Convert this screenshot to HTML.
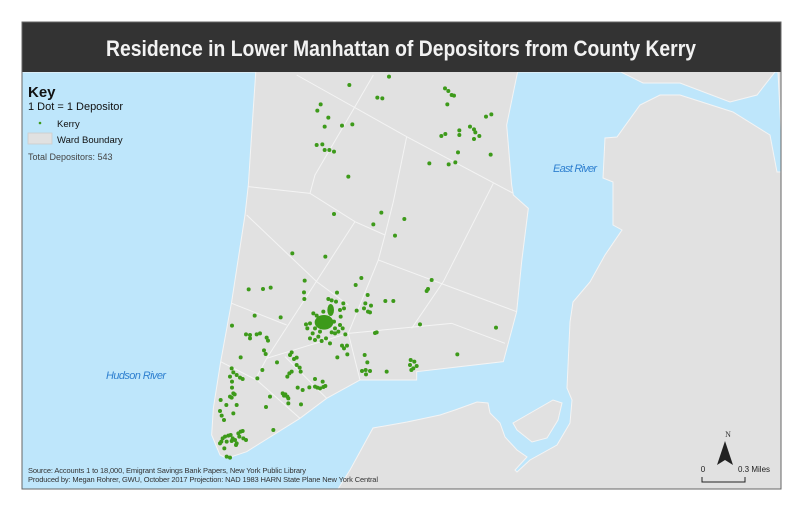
<!DOCTYPE html>
<html><head><meta charset="utf-8"><style>
html,body{margin:0;padding:0;background:#fff;}
svg{display:block;}
</style></head><body>
<svg width="800" height="511" viewBox="0 0 800 511" xmlns="http://www.w3.org/2000/svg">
<defs><clipPath id="c"><rect x="22" y="72" width="759" height="417"/></clipPath></defs>
<rect x="22" y="72" width="759" height="417" fill="#e1e1e1"/>
<g clip-path="url(#c)" stroke="#f4f4f4" stroke-width="1">
<polygon fill="#bee6fb" points="22,72 621,72 643,83 680,83 730,102 757,95 775,72 778,72 782,150 782,172 777,172 770,135 733,112 680,95 660,95 640,105 617,137 605,138 603,178 613,182 613,225 622,230 605,255 590,282 573,302 570,322 567,388 572,400 570,423 557,445 530,460 517,472 515,470 527,457 517,450 505,437 500,423 490,413 488,403 477,402 455,410 440,415 407,422 373,428 350,470 338,489 22,489"/>
<polygon fill="#e1e1e1" points="513,423 553,400 562,403 558,420 547,438 532,442 517,430"/>
<g transform="translate(200,75) scale(0.33333)" stroke-width="3">
<polygon fill="#e1e1e1" points="168,-20 160,100 145,330 135,420 95,680 62,860 40,1000 35,1080 60,1140 80,1150 140,1130 300,1030 380,970 480,915 650,915 650,890 910,860 950,710 965,560 985,400 940,360 935,330 920,150 955,-20"/>
<g fill="none">
<polyline points="290,0 620,185 940,355"/>
<polyline points="520,0 465,95 345,300 330,355"/>
<polyline points="145,335 330,355 465,440 555,480"/>
<polyline points="620,185 580,380 555,480 535,555 445,775"/>
<polyline points="880,325 730,620 635,760"/>
<polyline points="535,555 950,710"/>
<polyline points="140,420 350,620 445,690"/>
<polyline points="465,440 200,850 165,915"/>
<polyline points="95,685 260,750"/>
<polyline points="200,850 445,775 755,745 915,805"/>
<polyline points="445,775 480,915"/>
<polyline points="62,860 170,915 300,1030"/>
<polyline points="255,845 380,970"/>
</g>
<g fill="#3d9a1a" stroke="none">
<ellipse cx="372" cy="742" rx="28" ry="22"/>
<ellipse cx="392" cy="705" rx="10" ry="18"/>
<g>
<circle cx="448" cy="30" r="6"/><circle cx="567" cy="5" r="6"/><circle cx="735" cy="40" r="6"/><circle cx="745" cy="48" r="6"/><circle cx="755" cy="60" r="6"/><circle cx="762" cy="62" r="6"/><circle cx="742" cy="88" r="6"/><circle cx="532" cy="68" r="6"/><circle cx="547" cy="70" r="6"/><circle cx="362" cy="88" r="6"/><circle cx="352" cy="107" r="6"/><circle cx="385" cy="128" r="6"/><circle cx="374" cy="155" r="6"/><circle cx="426" cy="152" r="6"/><circle cx="457" cy="148" r="6"/><circle cx="858" cy="125" r="6"/><circle cx="874" cy="118" r="6"/><circle cx="724" cy="183" r="6"/><circle cx="736" cy="177" r="6"/><circle cx="778" cy="166" r="6"/><circle cx="778" cy="180" r="6"/><circle cx="810" cy="155" r="6"/><circle cx="822" cy="163" r="6"/><circle cx="826" cy="172" r="6"/><circle cx="822" cy="192" r="6"/><circle cx="838" cy="183" r="6"/><circle cx="774" cy="232" r="6"/><circle cx="872" cy="239" r="6"/><circle cx="688" cy="265" r="6"/><circle cx="746" cy="268" r="6"/><circle cx="766" cy="262" r="6"/><circle cx="350" cy="210" r="6"/><circle cx="367" cy="208" r="6"/><circle cx="374" cy="225" r="6"/><circle cx="388" cy="225" r="6"/><circle cx="402" cy="230" r="6"/><circle cx="445" cy="305" r="6"/><circle cx="402" cy="417" r="6"/><circle cx="544" cy="413" r="6"/><circle cx="613" cy="432" r="6"/><circle cx="520" cy="448" r="6"/><circle cx="585" cy="482" r="6"/><circle cx="277" cy="535" r="6"/><circle cx="376" cy="545" r="6"/><circle cx="695" cy="615" r="6"/><circle cx="680" cy="648" r="6"/><circle cx="684" cy="642" r="6"/><circle cx="314" cy="617" r="6"/><circle cx="484" cy="609" r="6"/><circle cx="467" cy="630" r="6"/><circle cx="146" cy="643" r="6"/><circle cx="189" cy="642" r="6"/><circle cx="212" cy="638" r="6"/><circle cx="312" cy="652" r="6"/><circle cx="313" cy="672" r="6"/><circle cx="411" cy="653" r="6"/><circle cx="503" cy="660" r="6"/><circle cx="496" cy="685" r="6"/><circle cx="492" cy="700" r="6"/><circle cx="504" cy="710" r="6"/><circle cx="513" cy="692" r="6"/><circle cx="470" cy="707" r="6"/><circle cx="510" cy="712" r="6"/><circle cx="556" cy="678" r="6"/><circle cx="580" cy="678" r="6"/><circle cx="430" cy="685" r="6"/><circle cx="432" cy="700" r="6"/><circle cx="164" cy="722" r="6"/><circle cx="242" cy="727" r="6"/><circle cx="96" cy="752" r="6"/><circle cx="138" cy="778" r="6"/><circle cx="150" cy="780" r="6"/><circle cx="170" cy="778" r="6"/><circle cx="180" cy="775" r="6"/><circle cx="150" cy="790" r="6"/><circle cx="200" cy="788" r="6"/><circle cx="204" cy="797" r="6"/><circle cx="192" cy="826" r="6"/><circle cx="197" cy="837" r="6"/><circle cx="122" cy="847" r="6"/><circle cx="660" cy="748" r="6"/><circle cx="888" cy="758" r="6"/><circle cx="530" cy="772" r="6"/><circle cx="525" cy="774" r="6"/><circle cx="426" cy="812" r="6"/><circle cx="432" cy="820" r="6"/><circle cx="441" cy="812" r="6"/><circle cx="442" cy="838" r="6"/><circle cx="412" cy="847" r="6"/><circle cx="494" cy="840" r="6"/><circle cx="502" cy="862" r="6"/><circle cx="486" cy="888" r="6"/><circle cx="497" cy="885" r="6"/><circle cx="510" cy="888" r="6"/><circle cx="498" cy="898" r="6"/><circle cx="560" cy="890" r="6"/><circle cx="772" cy="838" r="6"/><circle cx="632" cy="855" r="6"/><circle cx="643" cy="860" r="6"/><circle cx="630" cy="870" r="6"/><circle cx="640" cy="880" r="6"/><circle cx="650" cy="873" r="6"/><circle cx="634" cy="885" r="6"/><circle cx="275" cy="832" r="6"/><circle cx="270" cy="840" r="6"/><circle cx="290" cy="848" r="6"/><circle cx="282" cy="852" r="6"/><circle cx="231" cy="862" r="6"/><circle cx="187" cy="885" r="6"/><circle cx="290" cy="870" r="6"/><circle cx="299" cy="878" r="6"/><circle cx="302" cy="890" r="6"/><circle cx="275" cy="890" r="6"/><circle cx="268" cy="895" r="6"/><circle cx="262" cy="905" r="6"/><circle cx="172" cy="910" r="6"/><circle cx="95" cy="880" r="6"/><circle cx="100" cy="892" r="6"/><circle cx="110" cy="900" r="6"/><circle cx="90" cy="905" r="6"/><circle cx="120" cy="908" r="6"/><circle cx="128" cy="912" r="6"/><circle cx="96" cy="920" r="6"/><circle cx="96" cy="938" r="6"/><circle cx="100" cy="955" r="6"/><circle cx="104" cy="958" r="6"/><circle cx="90" cy="965" r="6"/><circle cx="95" cy="968" r="6"/><circle cx="210" cy="965" r="6"/><circle cx="62" cy="975" r="6"/><circle cx="79" cy="990" r="6"/><circle cx="110" cy="990" r="6"/><circle cx="60" cy="1008" r="6"/><circle cx="65" cy="1022" r="6"/><circle cx="72" cy="1035" r="6"/><circle cx="100" cy="1015" r="6"/><circle cx="198" cy="996" r="6"/><circle cx="265" cy="985" r="6"/><circle cx="303" cy="988" r="6"/><circle cx="345" cy="912" r="6"/><circle cx="368" cy="920" r="6"/><circle cx="345" cy="935" r="6"/><circle cx="352" cy="938" r="6"/><circle cx="360" cy="940" r="6"/><circle cx="370" cy="936" r="6"/><circle cx="376" cy="933" r="6"/><circle cx="328" cy="937" r="6"/><circle cx="308" cy="945" r="6"/><circle cx="293" cy="938" r="6"/><circle cx="248" cy="955" r="6"/><circle cx="256" cy="958" r="6"/><circle cx="262" cy="965" r="6"/><circle cx="265" cy="970" r="6"/><circle cx="252" cy="962" r="6"/><circle cx="220" cy="1065" r="6"/><circle cx="73" cy="1120" r="6"/><circle cx="80" cy="1145" r="6"/><circle cx="90" cy="1148" r="6"/><circle cx="60" cy="1105" r="6"/><circle cx="68" cy="1090" r="6"/><circle cx="75" cy="1085" r="6"/><circle cx="85" cy="1082" r="6"/><circle cx="92" cy="1080" r="6"/><circle cx="98" cy="1090" r="6"/><circle cx="105" cy="1095" r="6"/><circle cx="110" cy="1105" r="6"/><circle cx="118" cy="1085" r="6"/><circle cx="122" cy="1070" r="6"/><circle cx="128" cy="1068" r="6"/><circle cx="130" cy="1090" r="6"/><circle cx="138" cy="1095" r="6"/><circle cx="115" cy="1075" r="6"/><circle cx="95" cy="1098" r="6"/><circle cx="80" cy="1100" r="6"/><circle cx="108" cy="1110" r="6"/><circle cx="64" cy="1100" r="6"/>
<circle cx="330" cy="745" r="6"/><circle cx="322" cy="760" r="6"/><circle cx="338" cy="775" r="6"/><circle cx="330" cy="790" r="6"/><circle cx="345" cy="795" r="6"/><circle cx="355" cy="785" r="6"/><circle cx="365" cy="798" r="6"/><circle cx="378" cy="790" r="6"/><circle cx="390" cy="805" r="6"/><circle cx="405" cy="775" r="6"/><circle cx="415" cy="770" r="6"/><circle cx="420" cy="750" r="6"/><circle cx="422" cy="725" r="6"/><circle cx="420" cy="705" r="6"/><circle cx="408" cy="680" r="6"/><circle cx="385" cy="672" r="6"/><circle cx="395" cy="676" r="6"/><circle cx="340" cy="715" r="6"/><circle cx="350" cy="722" r="6"/><circle cx="318" cy="748" r="6"/><circle cx="370" cy="710" r="6"/><circle cx="360" cy="770" r="6"/><circle cx="395" cy="772" r="6"/><circle cx="436" cy="778" r="6"/><circle cx="428" cy="760" r="6"/><circle cx="405" cy="760" r="6"/><circle cx="402" cy="740" r="6"/><circle cx="345" cy="760" r="6"/>
</g></g></g>
</g>
<text x="106" y="379" font-family="Liberation Sans, sans-serif" font-size="11" font-style="italic" fill="#2f80d0" textLength="60">Hudson River</text>
<text x="553" y="172" font-family="Liberation Sans, sans-serif" font-size="11" font-style="italic" fill="#2f80d0" textLength="44">East River</text>
<g font-family="Liberation Sans, sans-serif" fill="#111">
<text x="28" y="97" font-size="15" font-weight="bold">Key</text>
<text x="28" y="110" font-size="11">1 Dot = 1 Depositor</text>
<circle cx="40" cy="123" r="1.3" fill="#3d9a1a"/>
<text x="57" y="127" font-size="9.5">Kerry</text>
<rect x="28" y="133" width="24" height="11" fill="#e1e1e1" stroke="#ccc" stroke-width="0.8"/>
<text x="57" y="143" font-size="9.5">Ward Boundary</text>
<text x="28" y="160" font-size="9" fill="#444">Total Depositors: 543</text>
<text x="28" y="473" font-size="7.5" fill="#333" textLength="278">Source: Accounts 1 to 18,000, Emigrant Savings Bank Papers, New York Public Library</text>
<text x="28" y="482" font-size="7.5" fill="#333" textLength="350">Produced by: Megan Rohrer, GWU, October 2017 Projection: NAD 1983 HARN State Plane New York Central</text>
</g>
<text x="728" y="437" font-family="Liberation Serif, serif" font-size="8" text-anchor="middle" fill="#333">N</text>
<polygon points="725,441 717,465 725,460 733,465" fill="#222"/>
<text x="703" y="472" font-family="Liberation Sans, sans-serif" font-size="8" text-anchor="middle" fill="#222">0</text>
<text x="738" y="472" font-family="Liberation Sans, sans-serif" font-size="8" fill="#222">0.3 Miles</text>
<polyline points="702,477 702,482 745,482 745,477" fill="none" stroke="#222" stroke-width="1"/>
<rect x="22" y="22" width="759" height="50" fill="#333"/>
<text x="401" y="56" font-family="Liberation Sans, sans-serif" font-size="22" font-weight="bold" fill="#f2f2f2" text-anchor="middle" textLength="590" lengthAdjust="spacingAndGlyphs">Residence in Lower Manhattan of Depositors from County Kerry</text>
<rect x="22" y="22" width="759" height="467" fill="none" stroke="#666" stroke-width="1"/>
</svg>
</body></html>
